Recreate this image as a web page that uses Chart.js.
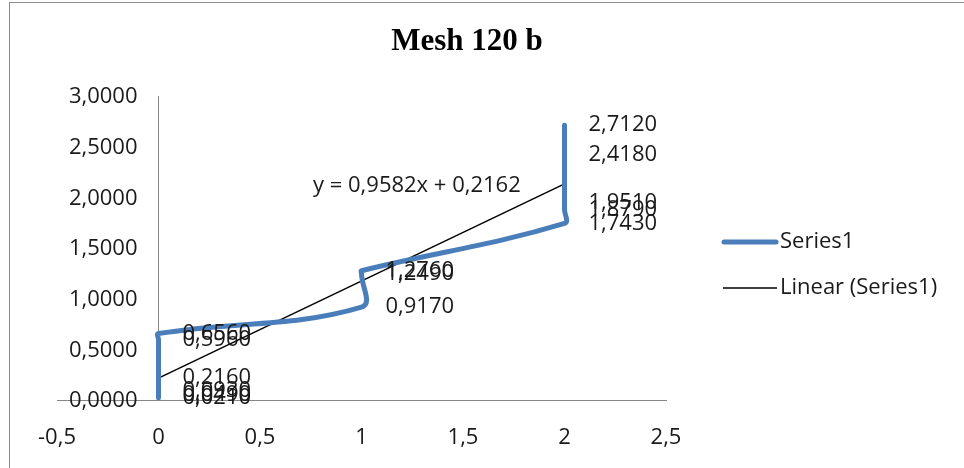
<!DOCTYPE html>
<html>
<head>
<meta charset="utf-8">
<title>Mesh 120 b</title>
<script src="https://cdn.jsdelivr.net/npm/chart.js@4.4.0/dist/chart.umd.min.js"></script>
<style>
  html, body { margin: 0; padding: 0; background: #fff; }
  #wrap { width: 964px; height: 468px; position: relative; }
</style>
</head>
<body>
<div id="wrap"><canvas id="meshChart" width="964" height="468"></canvas></div>
<script>
// values, in plotting order
const xValues = [0, 0, 0, 0, 0, 0, 1, 1, 1, 2, 2, 2, 2, 2];
const yValues = [0.0210, 0.0490, 0.0930, 0.2160, 0.5960, 0.6560,
                 0.9170, 1.2490, 1.2760,
                 1.7430, 1.8790, 1.9510, 2.4180, 2.7120];
const trendSlope = 0.9582;
const trendIntercept = 0.2162;
const trendRange = [0, 2];
const xTicks = [-0.5, 0, 0.5, 1, 1.5, 2, 2.5];
const yTicks = [0, 0.5, 1, 1.5, 2, 2.5, 3];

const comma = (v, d) => v.toFixed(d).replace('.', ',');
const labelFont = '22px "Open Sans"';
const textColor = '#1a1a1a';

const seriesPoints = xValues.map((x, i) => ({ x: x, y: yValues[i] }));
const trendPoints = trendRange.map(x => ({ x: x, y: trendSlope * x + trendIntercept }));

// data labels to the right of each point, trendline equation, y tick labels
const pointLabels = {
  id: 'pointLabels',
  afterDatasetsDraw(chart) {
    const ctx = chart.ctx;
    const meta = chart.getDatasetMeta(0);
    ctx.save();
    ctx.font = labelFont;
    ctx.fillStyle = textColor;
    ctx.textAlign = 'left';
    ctx.textBaseline = 'middle';
    meta.data.forEach((pt, i) => {
      ctx.fillText(comma(yValues[i], 4), pt.x + 24, pt.y);
    });
    const eq = 'y = ' + comma(trendSlope, 4) + 'x + ' + comma(trendIntercept, 4);
    ctx.fillText(eq, 313, 186);

    // y axis sits at x = 0, labels to its left
    const xs = chart.scales.x, ys = chart.scales.y;
    const axisX = xs.getPixelForValue(0);
    ctx.textAlign = 'right';
    yTicks.forEach(v => {
      ctx.fillText(comma(v, 4), axisX - 21, ys.getPixelForValue(v) + 1);
    });
    ctx.restore();
  }
};

// title, legend and outer frame drawn like the spreadsheet chart
const decorations = {
  id: 'decorations',
  afterDraw(chart) {
    const ctx = chart.ctx;
    ctx.save();
    ctx.strokeStyle = '#8c8c8c';
    ctx.lineWidth = 1;
    ctx.strokeRect(9.5, 2.5, 1000, 500);

    ctx.font = 'bold 31px "Liberation Serif"';
    ctx.fillStyle = '#000';
    ctx.textAlign = 'center';
    ctx.textBaseline = 'alphabetic';
    ctx.fillText('Mesh 120 b', 467, 50);

    ctx.lineCap = 'round';
    ctx.strokeStyle = '#4a7ebb';
    ctx.lineWidth = 5;
    ctx.beginPath(); ctx.moveTo(724, 242); ctx.lineTo(776, 242); ctx.stroke();
    ctx.lineCap = 'butt';
    ctx.strokeStyle = '#000';
    ctx.lineWidth = 1.5;
    ctx.beginPath(); ctx.moveTo(723, 288); ctx.lineTo(777, 288); ctx.stroke();

    ctx.font = labelFont;
    ctx.fillStyle = textColor;
    ctx.textAlign = 'left';
    ctx.textBaseline = 'middle';
    ctx.fillText('Series1', 780, 242);
    ctx.fillText('Linear (Series1)', 780, 288);
    ctx.restore();
  }
};

new Chart(document.getElementById('meshChart'), {
  type: 'scatter',
  data: {
    datasets: [
      {
        label: 'Series1',
        data: seriesPoints,
        showLine: true,
        borderColor: '#4a7ebb',
        borderWidth: 5,
        borderCapStyle: 'round',
        borderJoinStyle: 'round',
        tension: 0.4,
        pointRadius: 0
      },
      {
        label: 'Linear (Series1)',
        data: trendPoints,
        showLine: true,
        borderColor: '#000',
        borderWidth: 1.5,
        tension: 0,
        pointRadius: 0
      }
    ]
  },
  options: {
    responsive: false,
    animation: false,
    layout: { padding: { left: 57, right: 298, top: 96, bottom: 17 } },
    plugins: { legend: { display: false }, title: { display: false }, tooltip: { enabled: false } },
    scales: {
      x: {
        type: 'linear',
        min: -0.5, max: 2.5,
        afterBuildTicks: s => { s.ticks = xTicks.map(v => ({ value: v })); },
        afterFit: s => { s.height = 51; },
        grid: { display: false, drawTicks: false },
        border: { display: true, color: '#868686', width: 1 },
        ticks: { padding: 25, color: textColor, font: { family: 'Open Sans', size: 22 },
                 callback: v => String(v).replace('.', ',') }
      },
      y: {
        type: 'linear',
        position: { x: 0 },
        min: 0, max: 3,
        afterBuildTicks: s => { s.ticks = yTicks.map(v => ({ value: v })); },
        grid: { display: false, drawTicks: false },
        border: { display: true, color: '#868686', width: 1 },
        ticks: { display: false }
      }
    }
  },
  plugins: [pointLabels, decorations]
});
</script>
</body>
</html>
